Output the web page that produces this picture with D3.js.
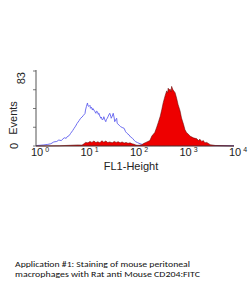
<!DOCTYPE html>
<html><head><meta charset="utf-8">
<script src="https://cdn.jsdelivr.net/npm/d3@7"></script>
<style>html,body{margin:0;padding:0;background:#fff;}svg{display:block;}</style>
</head><body>
<script>
// FL1-Height channel (log10 units) and event counts
const blueLog = [0.00,0.08,0.16,0.24,0.30,0.36,0.42,0.46,0.51,0.57,0.61,0.63,0.67,0.70,0.74,0.77,0.80,0.83,0.87,0.90,0.93,0.96,0.99,1.00,1.02,1.04,1.05,1.07,1.09,1.10,1.12,1.14,1.15,1.17,1.19,1.21,1.22,1.24,1.26,1.27,1.29,1.31,1.32,1.34,1.36,1.37,1.39,1.41,1.42,1.44,1.46,1.47,1.49,1.51,1.52,1.54,1.56,1.58,1.59,1.61,1.63,1.64,1.68,1.71,1.74,1.78,1.81,1.84,1.88,1.91,1.95,1.98,2.01,2.05,2.08,2.14,2.22,2.30,2.50,3.00,3.50,4.00];
const blueCount = [0.5,0.8,1.2,1.8,2.5,4.5,5.0,6.6,6.0,9.1,8.5,10.3,11.5,14,17,19.6,22,25,28,30.6,32,34,36,39.8,44,47.6,44.5,43.9,45,41.7,43,39.8,41.5,39.8,38,36.2,38.5,38,35,36.2,33,30.7,32,28.8,30,32.4,29,26.9,29,30.7,33,34.3,36.2,33,30.7,33,36.2,31,26.9,29,30.7,25.1,23,21.4,20.5,19.6,15.8,14,12.2,10,8.5,6.5,4.8,3.8,3.0,1.8,1.2,0.8,0.5,0.6,0.4,0.3];
const redLog = [0.00,0.48,0.69,0.85,0.93,0.97,1.00,1.05,1.09,1.13,1.17,1.21,1.25,1.29,1.33,1.37,1.41,1.45,1.49,1.54,1.58,1.62,1.66,1.70,1.74,1.78,1.82,1.86,1.90,1.94,1.98,2.02,2.06,2.10,2.14,2.18,2.22,2.26,2.30,2.34,2.37,2.40,2.44,2.47,2.51,2.54,2.57,2.61,2.64,2.66,2.67,2.69,2.71,2.73,2.74,2.76,2.77,2.81,2.84,2.87,2.91,2.94,2.98,3.01,3.04,3.08,3.11,3.18,3.25,3.28,3.31,3.35,3.38,3.41,3.45,3.52,3.62,4.00];
const redCount = [0,0.3,0.8,1.2,1.0,2.5,4.0,3.5,5.0,4.0,5.5,3.8,4.8,3.5,5.8,4.2,5.5,3.8,4.5,3.5,5.0,4.0,4.8,3.5,4.5,3.2,4.0,3.0,3.5,2.5,2.0,1.0,0.8,1.0,1.5,3.0,4.0,5.0,6.0,11,13,15,21,26,33,40,48,56,61,59,64,62,63,60,66,63,62,59,53,46,39,31,24,18,15,13,11,9,8,6,7.5,5,6,3.5,4,1.5,0.6,0];
const xTickExp = [0,1,2,3,4];
const yTicks = [0,20.75,41.5,62.25,83];
const yTickLabels = ["0","83"];
const xTitle = "FL1-Height";
const yTitle = "Events";
const caption = ["Application #1: Staining of mouse peritoneal","macrophages with Rat anti Mouse CD204:FITC"];
const captionWidths = [175,185];

const W=250,H=290;
const svg=d3.select("body").append("svg").attr("width",W).attr("height",H);
const x=d3.scaleLinear().domain([0,4]).range([36,234]);
const y=d3.scaleLinear().domain([0,83]).range([146,71]);
const font="'Liberation Sans', Arial, sans-serif";

const blue=blueLog.map((v,i)=>[v,blueCount[i]]);
const red=redLog.map((v,i)=>[v,redCount[i]]);

svg.append("path").datum(blue)
  .attr("d",d3.line().x(d=>x(d[0])).y(d=>y(d[1])))
  .attr("fill","none").attr("stroke","#6060ee").attr("stroke-width",0.9);
svg.append("path").datum(red)
  .attr("d",d3.area().x(d=>x(d[0])).y0(y(0)).y1(d=>y(d[1])))
  .attr("fill","#ee0000").attr("stroke","#5a0000").attr("stroke-width",0.5);

// axes
svg.append("line").attr("x1",x(0)).attr("x2",x(0)).attr("y1",y(83)-1).attr("y2",y(0))
  .attr("stroke","#555").attr("stroke-width",1);
svg.append("line").attr("x1",x(0)).attr("x2",x(4)).attr("y1",y(0)).attr("y2",y(0))
  .attr("stroke","#444").attr("stroke-width",0.7);
svg.selectAll(".yt").data(yTicks).enter().append("line")
  .attr("x1",x(0)-3).attr("x2",x(0)).attr("y1",d=>y(d)).attr("y2",d=>y(d))
  .attr("stroke","#555").attr("stroke-width",0.8);

// y labels
svg.append("text").attr("transform",`translate(25,${y(83)+1}) rotate(-90)`)
  .attr("text-anchor","end").attr("font-family",font).attr("font-size",11).attr("fill","#222").text(yTickLabels[1]);
svg.append("text").attr("transform",`translate(18,${y(0)}) rotate(-90)`)
  .attr("text-anchor","middle").attr("font-family",font).attr("font-size",11).attr("fill","#222").text(yTickLabels[0]);
svg.append("text").attr("transform",`translate(17,118) rotate(-90)`)
  .attr("text-anchor","middle").attr("font-family",font).attr("font-size",11).attr("fill","#222").text(yTitle);

// x tick labels
const xl=svg.selectAll(".xl").data(xTickExp).enter().append("text")
  .attr("x",d=>x(d)-5).attr("y",156).attr("font-family",font).attr("font-size",11).attr("fill","#222");
xl.append("tspan").text("10");
xl.append("tspan").attr("dx",2).attr("dy",-4).attr("font-size",7).text(d=>d);

svg.append("text").attr("x",131).attr("y",169.5).attr("text-anchor","middle")
  .attr("font-family",font).attr("font-size",11).attr("fill","#222").text(xTitle);

svg.selectAll(".cap").data(caption).enter().append("text")
  .attr("x",15).attr("y",(d,i)=>267+i*10).attr("font-family","Carlito, Calibri, 'Liberation Sans', sans-serif")
  .attr("font-size",9).attr("textLength",(d,i)=>captionWidths[i]).attr("lengthAdjust","spacingAndGlyphs")
  .attr("fill","#111").text(d=>d);
</script>
</body></html>
